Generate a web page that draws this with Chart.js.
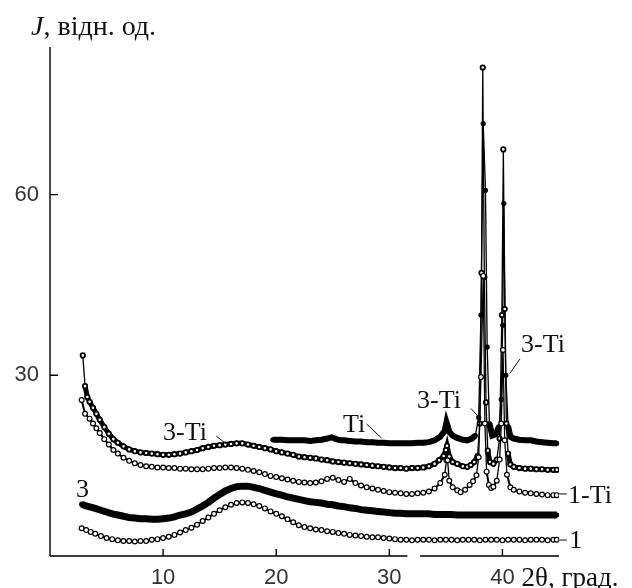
<!DOCTYPE html>
<html lang="uk">
<head>
<meta charset="utf-8">
<style>
    html, body { margin: 0; padding: 0; background: #fff; }
    #wrap { width: 632px; height: 588px; }
</style>
</head>
<body>
<div id="wrap"><canvas id="xrd" width="632" height="588"></canvas></div>
<script src="https://cdn.jsdelivr.net/npm/chart.js"></script>
<script>
    // осі
    const xTicks = [10, 20, 30, 40];
    const yTicks = [30, 60];
    const axisBreak = [31.6, 32.7];   // розрив на осі 2θ

    // криві [2θ, J]
    const curve1 = [
        [2.8,4.6],[3.2,4.3],[3.6,4.0],[4.0,3.7],[4.5,3.3],[5.0,3.0],[5.5,2.8],[6.0,2.6],[6.5,2.5],[7.0,2.5],
        [7.5,2.4],[8.0,2.5],[8.5,2.5],[9.0,2.7],[9.5,2.8],[10.0,3.0],[10.5,3.2],[11.0,3.5],[11.5,3.9],[12.0,4.3],
        [12.5,4.7],[13.0,5.2],[13.5,5.8],[14.0,6.4],[14.5,7.0],[15.0,7.6],[15.5,8.1],[16.0,8.5],[16.5,8.8],[17.0,8.9],
        [17.5,8.8],[18.0,8.6],[18.5,8.3],[19.0,7.9],[19.5,7.4],[20.0,7.0],[20.5,6.6],[21.0,6.1],[21.5,5.6],[22.0,5.1],
        [22.5,4.8],[23.0,4.6],[23.5,4.4],[24.0,4.3],[24.5,4.1],[25.0,4.0],[25.5,3.8],[26.0,3.7],[26.5,3.5],[27.0,3.4],
        [27.5,3.3],[28.0,3.2],[28.5,3.1],[29.0,3.1],[29.5,3.0],[30.0,2.9],[30.5,2.8],[31.0,2.7],[31.5,2.7],[32.0,2.6],
        [32.5,2.7],[33.0,2.7],[33.5,2.7],[34.0,2.6],[34.5,2.7],[35.0,2.7],[35.5,2.7],[36.0,2.6],[36.5,2.7],[37.0,2.7],
        [37.5,2.7],[38.0,2.6],[38.5,2.7],[39.0,2.7],[39.5,2.7],[40.0,2.6],[40.5,2.7],[41.0,2.7],[41.5,2.7],[42.0,2.6],
        [42.5,2.7],[43.0,2.7],[43.5,2.7],[44.0,2.6],[44.5,2.7],[44.8,2.7]
    ];
    const curve3 = [
        [2.8,8.6],[3.2,8.3],[3.6,8.1],[4.0,7.9],[4.5,7.6],[5.0,7.3],[5.5,7.0],[6.0,6.8],[6.5,6.6],[7.0,6.4],
        [7.5,6.3],[8.0,6.2],[8.5,6.2],[9.0,6.1],[9.5,6.1],[10.0,6.2],[10.5,6.3],[11.0,6.5],[11.5,6.8],[12.0,7.0],
        [12.5,7.3],[13.0,7.8],[13.5,8.3],[14.0,8.9],[14.5,9.6],[15.0,10.2],[15.5,10.8],[16.0,11.2],[16.5,11.5],[17.0,11.6],
        [17.5,11.6],[18.0,11.4],[18.5,11.2],[19.0,10.9],[19.5,10.6],[20.0,10.3],[20.5,10.1],[21.0,9.8],[21.5,9.6],[22.0,9.4],
        [22.5,9.2],[23.0,9.0],[23.5,8.9],[24.0,8.8],[24.5,8.6],[25.0,8.5],[25.5,8.3],[26.0,8.2],[26.5,8.0],[27.0,7.9],
        [27.5,7.7],[28.0,7.6],[28.5,7.5],[29.0,7.4],[29.5,7.3],[30.0,7.2],[30.5,7.1],[31.0,7.1],[31.5,7.0],[32.0,7.0],
        [32.5,7.0],[33.0,7.0],[33.5,7.0],[34.0,6.9],[34.5,6.9],[35.0,6.9],[35.5,6.9],[36.0,6.8],[36.5,6.8],[37.0,6.8],
        [37.5,6.8],[38.0,6.8],[38.5,6.8],[39.0,6.8],[39.5,6.8],[40.0,6.8],[40.5,6.8],[41.0,6.8],[41.5,6.8],[42.0,6.8],
        [42.5,6.8],[43.0,6.8],[43.5,6.8],[44.0,6.8],[44.5,6.8],[44.8,6.8]
    ];
    const curve1Ti = [
        [2.8,25.9],[3.1,23.6],[3.5,22.8],[3.8,22.0],[4.1,21.2],[4.4,20.4],[4.8,19.4],[5.2,18.5],[5.6,17.6],[6.0,17.0],
        [6.5,16.3],[7.0,15.8],[7.5,15.4],[8.0,15.1],[8.5,14.9],[9.0,14.8],[9.5,14.7],[10.0,14.7],[10.5,14.6],[11.0,14.6],
        [11.5,14.5],[12.0,14.5],[12.5,14.4],[13.0,14.4],[13.5,14.4],[14.0,14.5],[14.5,14.6],[15.0,14.6],[15.5,14.7],[16.0,14.7],
        [16.5,14.6],[17.0,14.5],[17.5,14.3],[18.0,14.1],[18.5,13.9],[19.0,13.6],[19.5,13.3],[20.0,13.1],[20.5,12.9],[21.0,12.7],
        [21.5,12.5],[22.0,12.3],[22.5,12.2],[23.0,12.1],[23.5,12.2],[24.0,12.4],[24.5,12.8],[25.0,13.0],[25.5,12.6],[26.0,12.3],
        [26.5,12.8],[27.0,12.1],[27.5,11.7],[28.0,11.4],[28.5,11.2],[29.0,11.0],[29.5,10.8],[30.0,10.6],[30.5,10.5],[31.0,10.4],
        [31.5,10.3],[32.0,10.3],[32.5,10.4],[33.0,10.5],[33.5,10.7],[34.0,11.2],[34.5,12.1],[34.9,13.5],[35.05,15.9],[35.15,15.9],
        [35.3,12.5],[35.6,11.4],[36.0,10.9],[36.3,10.6],[36.7,11.0],[37.1,11.8],[37.4,12.4],[37.7,13.4],[37.9,16.4],[38.1,29.7],
        [38.3,46.5],[38.45,22.0],[38.6,14.0],[38.8,11.8],[39.0,11.3],[39.2,11.5],[39.5,12.5],[39.75,16.0],[39.9,22.0],[40.05,34.2],
        [40.2,19.2],[40.4,13.5],[40.7,11.4],[41.0,11.0],[41.5,10.7],[42.0,10.5],[42.5,10.4],[43.0,10.3],[43.5,10.2],[44.0,10.1],
        [44.5,10.1],[44.8,10.1]
    ];
    const curve3Ti = [
        [2.9,33.3],[3.1,28.2],[3.3,26.4],[3.5,25.6],[3.8,24.6],[4.1,23.6],[4.4,22.6],[4.8,21.4],[5.2,20.3],[5.6,19.4],
        [6.0,18.8],[6.5,18.2],[7.0,17.7],[7.5,17.4],[8.0,17.2],[8.5,17.1],[9.0,17.0],[9.5,16.9],[10.0,16.8],[10.5,16.8],
        [11.0,16.9],[11.5,17.0],[12.0,17.2],[12.5,17.4],[13.0,17.6],[13.5,17.9],[14.0,18.1],[14.5,18.3],[15.0,18.4],[15.5,18.5],
        [16.0,18.6],[16.5,18.7],[17.0,18.7],[17.5,18.5],[18.0,18.3],[18.5,18.1],[19.0,17.9],[19.5,17.7],[20.0,17.4],[20.5,17.2],
        [21.0,17.0],[21.5,16.8],[22.0,16.5],[22.5,16.4],[23.0,16.3],[23.5,16.2],[24.0,16.0],[24.5,15.9],[25.0,15.7],[25.5,15.6],
        [26.0,15.5],[26.5,15.4],[27.0,15.3],[27.5,15.2],[28.0,15.1],[28.5,15.0],[29.0,14.9],[29.5,14.8],[30.0,14.7],[30.5,14.6],
        [31.0,14.6],[31.5,14.5],[32.0,14.6],[32.5,14.6],[33.0,14.7],[33.5,14.9],[34.0,15.3],[34.4,15.9],[34.8,16.6],[35.0,17.6],
        [35.1,18.3],[35.3,16.5],[35.6,15.6],[36.0,15.3],[36.5,14.9],[36.9,14.8],[37.2,15.1],[37.5,15.6],[37.8,16.6],[38.0,22.0],
        [38.15,47.0],[38.26,81.1],[38.4,46.3],[38.55,25.5],[38.7,17.5],[38.9,15.6],[39.2,15.3],[39.5,16.0],[39.75,19.5],[39.95,40.0],
        [40.08,67.5],[40.2,41.0],[40.35,22.0],[40.5,17.0],[40.7,15.2],[41.0,14.8],[41.5,14.6],[42.0,14.5],[42.5,14.5],[43.0,14.4],
        [43.5,14.4],[44.0,14.3],[44.5,14.3],[44.8,14.3]
    ];
    const curveTi = [
        [19.7,19.3],[20.0,19.3],[20.5,19.3],[21.0,19.2],[21.5,19.2],[22.0,19.2],[22.5,19.2],[23.0,19.1],[23.5,19.2],[24.0,19.3],
        [24.5,19.5],[24.9,19.7],[25.3,19.4],[25.7,19.2],[26.0,19.2],[26.5,19.1],[27.0,19.0],[27.5,19.0],[28.0,18.9],[28.5,18.9],
        [29.0,18.8],[29.5,18.8],[30.0,18.7],[30.5,18.7],[31.0,18.7],[31.5,18.7],[32.0,18.7],[32.5,18.8],[33.0,18.8],[33.5,18.9],
        [34.0,19.2],[34.5,19.8],[34.9,20.8],[35.05,22.2],[35.15,21.6],[35.3,20.6],[35.6,20.0],[36.0,19.6],[36.5,19.3],[36.9,19.2],
        [37.3,19.5],[37.6,20.0],[37.9,23.0],[38.1,40.0],[38.3,71.8],[38.5,60.7],[38.65,34.7],[38.85,22.0],[39.1,20.0],[39.4,20.2],
        [39.7,21.5],[39.9,26.0],[40.02,38.3],[40.12,58.5],[40.3,30.0],[40.5,21.5],[40.7,19.8],[41.0,19.5],[41.5,19.3],[42.0,19.2],
        [42.5,19.2],[43.0,19.0],[43.5,18.9],[44.0,18.8],[44.5,18.7],[44.8,18.7]
    ];

    // підписи кривих: текст, точка прив'язки (2θ, J), виноска
    const curveLabels = [
        { text: '3-Ti', x: 10.0,  y: 19.2, lead: [[14.7, 19.9], [15.6, 18.6]] },
        { text: 'Ti',   x: 25.9,  y: 20.6, lead: [[28.0, 21.9], [29.3, 19.6]] },
        { text: '3-Ti', x: 32.45, y: 24.5, lead: [[37.2, 24.5], [38.1, 22.7]] },
        { text: '3-Ti', x: 41.65, y: 33.8, lead: [[41.55, 32.7], [40.65, 30.3]] },
        { text: '1-Ti', x: 45.8,  y: 8.8,  lead: [[44.9, 10.3], [45.7, 10.3]] },
        { text: '1',    x: 45.9,  y: 1.35, lead: [[44.9, 2.65], [45.7, 2.65]] },
        { text: '3',    x: 2.3,   y: 9.8,  lead: null }
    ];

    const serif = "'Liberation Serif', 'Times New Roman', serif";
    const sans = "'Liberation Sans', Arial, sans-serif";

    // тонка лінія на крутих ділянках піків
    const thinSteep = ctx => Math.abs(ctx.p1.y - ctx.p0.y) > 14 ? 1.3 : undefined;

    function openSeries(data, lineW, r, bw) {
        return {
            data: data, showLine: true, borderColor: '#000', borderWidth: lineW,
            pointRadius: r, pointBorderWidth: bw, pointBorderColor: '#000', pointBackgroundColor: '#fff',
            segment: { borderWidth: thinSteep }
        };
    }
    function filledSeries(data, lineW) {
        return {
            data: data, showLine: true, borderColor: '#000', borderWidth: lineW,
            pointRadius: 2.6, pointBorderWidth: 0, pointBackgroundColor: '#000',
            segment: { borderWidth: thinSteep }
        };
    }

    // осі з розривом і внутрішніми рисками
    const axesPlugin = {
        id: 'axesPlugin',
        beforeDatasetsDraw(chart) {
            const { ctx, chartArea: a, scales: { x, y } } = chart;
            ctx.save();
            ctx.strokeStyle = '#000';
            ctx.lineWidth = 1.4;
            ctx.beginPath();
            ctx.moveTo(a.left, a.top);
            ctx.lineTo(a.left, a.bottom);
            ctx.moveTo(a.left, a.bottom);
            ctx.lineTo(x.getPixelForValue(axisBreak[0]), a.bottom);
            ctx.moveTo(x.getPixelForValue(axisBreak[1]), a.bottom);
            ctx.lineTo(a.right, a.bottom);
            xTicks.forEach(v => {
                const px = x.getPixelForValue(v);
                ctx.moveTo(px, a.bottom);
                ctx.lineTo(px, a.bottom - 7);
            });
            yTicks.forEach(v => {
                const py = y.getPixelForValue(v);
                ctx.moveTo(a.left, py);
                ctx.lineTo(a.left + 8, py);
            });
            ctx.stroke();
            ctx.restore();
        },
        afterDraw(chart) {
            const { ctx, chartArea: a, scales: { x, y } } = chart;
            ctx.save();
            ctx.fillStyle = '#111';
            ctx.strokeStyle = '#111';
            ctx.lineWidth = 1;
            ctx.textBaseline = 'alphabetic';
            ctx.textAlign = 'left';
            ctx.font = '26px ' + serif;
            curveLabels.forEach(l => {
                ctx.fillText(l.text, x.getPixelForValue(l.x), y.getPixelForValue(l.y));
                if (l.lead) {
                    ctx.beginPath();
                    ctx.moveTo(x.getPixelForValue(l.lead[0][0]), y.getPixelForValue(l.lead[0][1]));
                    ctx.lineTo(x.getPixelForValue(l.lead[1][0]), y.getPixelForValue(l.lead[1][1]));
                    ctx.stroke();
                }
            });
            // назви осей
            ctx.font = 'italic 28px ' + serif;
            ctx.fillText('J', a.left - 19, a.top - 12);
            const jw = ctx.measureText('J').width;
            ctx.font = '28px ' + serif;
            ctx.fillText(', відн. од.', a.left - 19 + jw, a.top - 12);
            ctx.font = '27px ' + serif;
            ctx.fillText('2θ, град.', x.getPixelForValue(40) + 19, a.bottom + 30);
            ctx.restore();
        }
    };

    new Chart(document.getElementById('xrd'), {
        type: 'scatter',
        data: {
            datasets: [
                openSeries(curve1Ti, 2, 2.4, 1.2),
                openSeries(curve3Ti, 5, 2.2, 1.8),
                filledSeries(curveTi, 6),
                filledSeries(curve3, 7),
                openSeries(curve1, 2, 2.4, 1.2)
            ]
        },
        options: {
            responsive: false,
            animation: false,
            devicePixelRatio: 1,
            layout: { padding: { top: 47, right: 73, left: 0, bottom: 0 } },
            plugins: { legend: { display: false }, tooltip: { enabled: false } },
            scales: {
                x: {
                    type: 'linear', min: 0, max: 45,
                    grid: { display: false, drawTicks: false },
                    border: { display: false },
                    afterBuildTicks: s => { s.ticks = xTicks.map(v => ({ value: v })); },
                    afterFit: s => { s.height = 32; },
                    ticks: { color: '#333', font: { family: sans, size: 22 }, padding: 9, maxRotation: 0, autoSkip: false }
                },
                y: {
                    type: 'linear', min: 0, max: 84.5,
                    grid: { display: false, drawTicks: false },
                    border: { display: false },
                    afterBuildTicks: s => { s.ticks = yTicks.map(v => ({ value: v })); },
                    afterFit: s => { s.width = 50; },
                    ticks: { color: '#333', font: { family: sans, size: 22 }, padding: 11 }
                }
            }
        },
        plugins: [axesPlugin]
    });
</script>
</body>
</html>
